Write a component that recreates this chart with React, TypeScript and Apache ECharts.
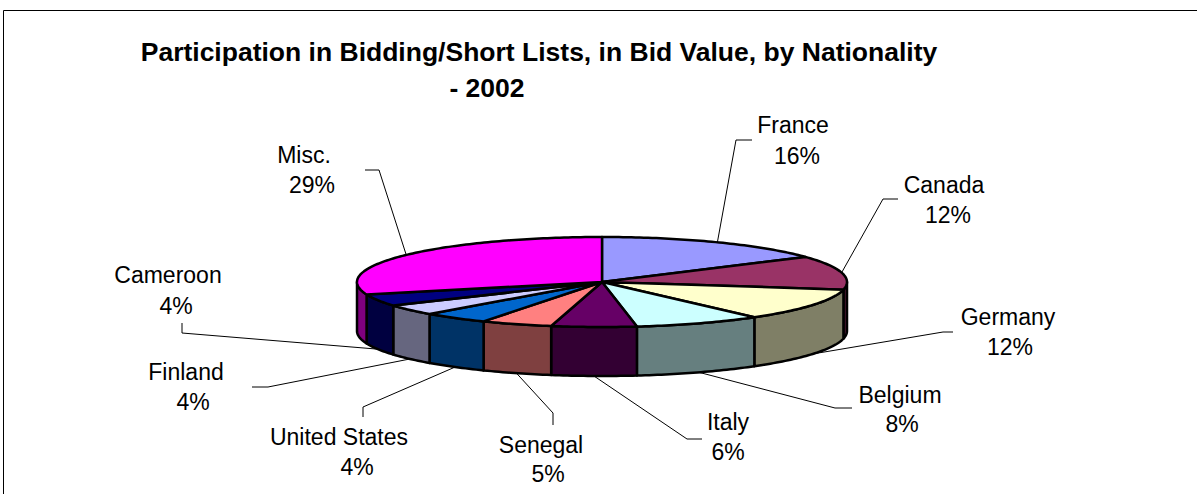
import React, { useEffect, useRef } from "react";
import * as echarts from "echarts";

// ---- data ----
const categories = ["France", "Canada", "Germany", "Belgium", "Italy", "Senegal", "United States", "Finland", "Cameroon", "Misc."];
const shares = [15.6, 12.1, 11.6, 8.4, 5.6, 4.7, 4.4, 3.8, 4.3, 29.45];
const sliceColors = ["#9999FF", "#993366", "#FFFFCC", "#CCFFFF", "#660066", "#FF8080", "#0066CC", "#CCCCFF", "#000080", "#FF00FF"];
const titleLines = ["Participation in Bidding/Short Lists, in Bid Value, by Nationality", "- 2002"];

// ---- layout (positions of the manually placed data labels) ----
const nameAnchors = [[793, 125], [944, 185], [1008, 317], [900, 395], [728, 422], [541, 445], [339, 437], [186, 372], [168, 275], [304, 155]];
const pctAnchors = [[797, 156], [948, 215], [1010, 347], [902, 424], [728, 452], [548, 474], [357, 467], [193, 402], [176, 306], [312, 185]];
const leaderStubs = [
  [[752, 140], [736, 140]],
  [[898, 199], [883, 199]],
  [[953, 332], [943, 332]],
  [[852, 408], [835, 408]],
  [[702, 439], [687, 439]],
  [[553, 425], [553, 413]],
  [[363, 417], [363, 407]],
  [[252, 387], [268, 387]],
  [[182, 323], [182, 333]],
  [[365, 170], [379, 170]],
];

const CX = 602, CY = 282, RX = 245, RY = 45, DEPTH = 49;
const FONT = '"Liberation Sans", Arial, sans-serif';

function darken(hex: string) {
  const n = parseInt(hex.slice(1), 16);
  const r = ((n >> 16) & 255) >> 1, g = ((n >> 8) & 255) >> 1, b = (n & 255) >> 1;
  return "rgb(" + r + "," + g + "," + b + ")";
}

function pt(deg: number, dy = 0): number[] {
  const a = (deg * Math.PI) / 180;
  return [CX + RX * Math.sin(a), CY - RY * Math.cos(a) + dy];
}

function arc(a0: number, a1: number, dy = 0): number[][] {
  const pts: number[][] = [];
  const n = Math.max(2, Math.ceil(Math.abs(a1 - a0)));
  for (let k = 0; k <= n; k++) pts.push(pt(a0 + ((a1 - a0) * k) / n, dy));
  return pts;
}

const total = shares.reduce((s, v) => s + v, 0);
const startAngles: number[] = [];
const endAngles: number[] = [];
{
  let acc = 0;
  shares.forEach((v) => {
    startAngles.push((acc / total) * 360);
    acc += v;
    endAngles.push((acc / total) * 360);
  });
}

const seriesData = shares.map((v, i) => ({ name: categories[i], value: [i, v] }));

export default function App() {
  const ref = useRef<HTMLDivElement>(null);
  useEffect(() => {
    document.body.style.margin = "0";
    const chart = echarts.init(ref.current!, null, { renderer: "svg" });
    const option: any = {
      animation: false,
      backgroundColor: "#ffffff",
      graphic: [
        { type: "rect", shape: { x: 3.5, y: 10.5, width: 1300, height: 600 }, style: { fill: "none", stroke: "#000", lineWidth: 1 }, silent: true },
        { type: "text", x: 539, y: 52, style: { text: titleLines[0], font: "bold 26.5px " + FONT, align: "center", verticalAlign: "middle", fill: "#000" } },
        { type: "text", x: 487, y: 88, style: { text: titleLines[1], font: "bold 26.5px " + FONT, align: "center", verticalAlign: "middle", fill: "#000" } },
      ],
      series: [
        {
          type: "custom",
          name: "walls",
          coordinateSystem: "none",
          silent: true,
          data: seriesData,
          renderItem: (params: any) => {
            const i = params.dataIndex;
            const lo = Math.max(startAngles[i], 90);
            const hi = Math.min(endAngles[i], 270);
            if (hi <= lo) return { type: "group", children: [] };
            const pts = arc(lo, hi, 0).concat(arc(hi, lo, DEPTH));
            return {
              type: "polygon",
              shape: { points: pts },
              style: { fill: darken(sliceColors[i]), stroke: "#000", lineWidth: 2.5, lineJoin: "round" },
            };
          },
        },
        {
          type: "custom",
          name: "tops",
          coordinateSystem: "none",
          silent: true,
          data: seriesData,
          renderItem: (params: any) => {
            const i = params.dataIndex;
            const pts = [[CX, CY]].concat(arc(startAngles[i], endAngles[i], 0));
            return {
              type: "polygon",
              shape: { points: pts },
              style: { fill: sliceColors[i], stroke: "#000", lineWidth: 2.5, lineJoin: "round" },
            };
          },
        },
        {
          type: "custom",
          name: "labels",
          coordinateSystem: "none",
          silent: true,
          data: seriesData,
          renderItem: (params: any, api: any) => {
            const i = params.dataIndex;
            const v = api.value(1);
            const mid = (startAngles[i] + endAngles[i]) / 2;
            const front = mid > 90 && mid < 270;
            const rim = pt(mid, front ? DEPTH : 0);
            const stub = leaderStubs[i];
            return {
              type: "group",
              children: [
                {
                  type: "polyline",
                  shape: { points: [stub[0], stub[1], rim] },
                  style: { stroke: "#000", lineWidth: 1, fill: null },
                },
                {
                  type: "text",
                  x: nameAnchors[i][0],
                  y: nameAnchors[i][1],
                  style: { text: categories[i], font: "23px " + FONT, align: "center", verticalAlign: "middle", fill: "#000" },
                },
                {
                  type: "text",
                  x: pctAnchors[i][0],
                  y: pctAnchors[i][1],
                  style: { text: Math.round((v / total) * 100) + "%", font: "23px " + FONT, align: "center", verticalAlign: "middle", fill: "#000" },
                },
              ],
            };
          },
        },
      ],
    };
    chart.setOption(option);
    return () => chart.dispose();
  }, []);
  return <div ref={ref} style={{ width: 1197, height: 494 }} />;
}
